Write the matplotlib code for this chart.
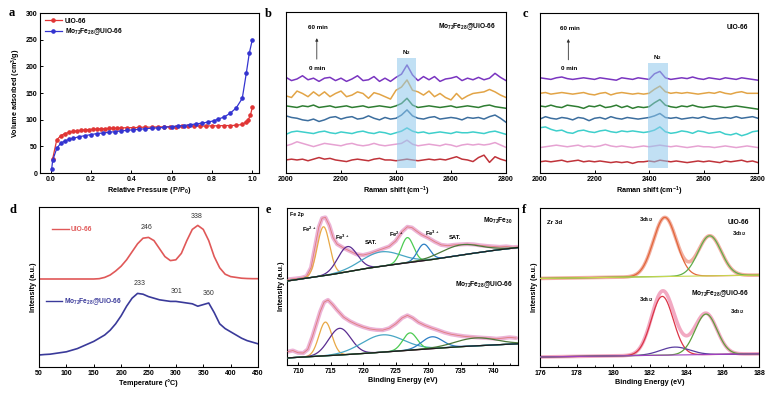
import numpy as np
import matplotlib
matplotlib.use('Agg')
import matplotlib.pyplot as plt
from matplotlib.patches import Rectangle
from matplotlib.ticker import MultipleLocator

plt.rcParams['font.family'] = ['Liberation Sans', 'DejaVu Sans']
plt.rcParams['font.weight'] = 'bold'
plt.rcParams['mathtext.default'] = 'regular'
plt.rcParams['axes.linewidth'] = 0.8
plt.rcParams['xtick.direction'] = 'in'
plt.rcParams['ytick.direction'] = 'in'
plt.rcParams['xtick.major.size'] = 2
plt.rcParams['ytick.major.size'] = 2
plt.rcParams['xtick.minor.size'] = 1.2
plt.rcParams['xtick.major.width'] = 0.7
plt.rcParams['ytick.major.width'] = 0.7
plt.rcParams['xtick.labelsize'] = 5
plt.rcParams['ytick.labelsize'] = 5
plt.rcParams['axes.labelsize'] = 5.2
plt.rcParams['axes.labelweight'] = 'bold'
plt.rcParams['xtick.major.pad'] = 2
plt.rcParams['ytick.major.pad'] = 2
plt.rcParams['axes.labelpad'] = 1.5

# ---------------------------------------------------------------------------
# Data
# ---------------------------------------------------------------------------
MOFE = 'Mo$_{72}$Fe$_{28}$@UiO-66'

# (a) N2 isotherms
p_uio = [0.01, 0.03, 0.05, 0.07, 0.09, 0.11, 0.13, 0.15, 0.17, 0.19, 0.21, 0.23,
         0.25, 0.27, 0.29, 0.31, 0.33, 0.35, 0.38, 0.41, 0.44, 0.47, 0.50, 0.53,
         0.56, 0.59, 0.62, 0.65, 0.68, 0.71, 0.74, 0.77, 0.80, 0.83, 0.86, 0.89,
         0.92, 0.95, 0.97, 0.98, 0.99, 1.0]
v_uio = [27, 62, 70, 74, 76, 78, 79, 80, 81, 81.5, 82, 82.5,
         83, 83, 83.5, 84, 84, 84.5, 85, 85, 85.5, 86, 86, 86.5,
         86.5, 87, 87, 87.5, 87.5, 88, 88, 88, 88.5, 88.5, 89, 89,
         89.5, 91, 96, 100, 108, 123]
p_mofe = [0.005, 0.01, 0.03, 0.05, 0.07, 0.09, 0.11, 0.14, 0.17, 0.20, 0.23, 0.26,
          0.29, 0.32, 0.35, 0.38, 0.41, 0.44, 0.47, 0.50, 0.53, 0.56, 0.60, 0.63,
          0.66, 0.69, 0.72, 0.75, 0.78, 0.81, 0.83, 0.86, 0.89, 0.92, 0.95, 0.97,
          0.985, 1.0]
v_mofe = [8, 24, 46, 56, 60, 63, 65, 68, 70, 72, 74, 75,
          76.5, 77.5, 79, 80, 81, 82, 83, 84, 84.5, 85.5, 87, 88,
          89, 90.5, 92, 93.5, 95.5, 98, 101, 105, 112, 122, 140, 187,
          225, 250]

# (b, c) in situ Raman: shift grid and deviations (x0.01 of panel height)
raman_shift = list(range(2000, 2801, 20))
trace_colors = ['#7A35C0', '#E2A446', '#2E7D32', '#3C6E9E', '#3ECFCB', '#E6A2D2', '#C0333A']
b_base = [0.584, 0.484, 0.412, 0.340, 0.250, 0.174, 0.081]
b_dev = [
    [1, -1, 0, 2, -0.5, 0.5, -1.5, 0.5, 1, -1, 0.5, -1.5, 0, 2, -1, -0.5, 1.5, -1.5, 0.5, -1.5,
     1, 3, 8.7, 2.5, -1, 1.5, -0.5, 1.5, -1.5, 0, 0.5, 1.5, -1, 0.5, -0.5, 1, -0.5, 0.5, 3.5, 1, -1],
    [-0.5, -1.5, 2.5, 1, -1, 2, -0.5, 2, -1, 1, 2.5, -1, 0, 2, 1, -2, 1.5, 0.5, -1, -2.5,
     3, 5, 9.4, 3, 2, 0, 2.5, -1, 1, -1.5, -3, 1, -2.5, -0.5, 1, 1.5, 2, 3.5, 2, 0, -1.5],
    [0.5, 0, -0.5, 0.5, 0, 1, -0.5, 0, 0.5, -0.5, 0, 0.5, -0.5, 0, 0.5, -0.5, 0, 0.5, 0, -0.5,
     0.5, 2, 5.2, 1, -0.5, 0, 0.5, 0, -0.5, 0, 0.5, -0.5, 0, 0.5, 0, -0.5, 0.5, 1, 0, -0.5, -1],
    [1.5, 0.5, 0, -1, -1.5, -0.5, -2, -1, 0.5, 1, -0.5, 0.5, 1, -0.5, 0, 1.5, 0, -1, 0.5, -0.5,
     0, 2, 5.2, 1.5, 0, -0.5, 0.5, 1, -0.5, 0, 0.5, 0, -1, 0.5, 0, 0.5, -0.5, 1, 2, 0, -2.5],
    [-1, 0.5, 1, 0.5, 0, -0.5, 0.5, 1, 0, -0.5, 0.5, 0, -0.5, 0.5, 1, 0, -0.5, 0.5, 0, -1,
     0, 1, 3, 1, 0, 0.5, -0.5, 0, 0.5, 0, -0.5, 0.5, 0, 0, 0.5, 0, -0.5, 0.5, 1, 0, -1],
    [-0.5, 0.5, 2, 1, 0, -1, 0, 1, 0.5, 0, -0.5, 0.5, 1, 0, -0.5, 0, 1, 0, -0.5, 0,
     0.5, 1, 3, 0.5, -0.5, 0, 0.5, 0, -0.5, 0.5, 0, -1, 0, 0.5, 0, 0.5, 0, 0.5, 1.5, 0, -1.5],
    [0, 0.5, 0, 0.5, -0.5, 0.5, 1.5, 0.5, 1, 0, -0.5, -1, 0, 0.5, 0, -0.5, 0.5, 1, 0, 0,
     -0.5, 0, 0.5, 0, -0.5, 0, 0.5, 0, 0.5, 0, 1, 2, 0.5, 0, -1, 1.5, 3, -1.5, 2, 0.5, -0.5],
]
c_base = [0.590, 0.498, 0.414, 0.342, 0.258, 0.164, 0.070]
c_dev = [
    [0.5, 0, -0.5, 0.5, 1, 0, -0.5, 0, 0.5, 0, -0.5, 0.5, 0, -0.5, -1, 0.5, 0, -0.5, 0.5, 0,
     -0.5, 3, 4.5, 0.5, -0.5, 0, 0.5, 0, 1, 0, -0.5, 0.5, 0, -0.5, 0.5, 0, -0.5, 0.5, 0, -0.5, -1],
    [0, 0.5, -0.5, 0, 0.5, 0, -0.5, 0, 0.5, -0.5, -1, 0, 0.5, -1, 0, 0.5, 0, -0.5, 0, -0.5,
     0, 2.5, 4.5, 1, 0, 0.5, 0, 0.5, 0, -0.5, 0, 0.5, 0, 1, 0, -0.5, 0.5, 1, 0, 0, 0],
    [0.5, 0, 1, 0, -0.5, 1, 0.5, 0, -1, 0.5, 0, 1, -0.5, 0, 1, -0.5, 0.5, -1, 0, -0.5,
     0, 2.5, 4.5, 1, 0, -0.5, 0.5, 0, 1, 0, -0.5, 0, 0.5, 0, -0.5, 0, 0.5, 0, -0.5, -1, -1.5],
    [-0.5, 1, 0, -0.5, 0.5, 0, -1, 0.5, 0, -1.5, 0, 0.5, -0.5, 1, 0, -0.5, 0.5, 0, -0.5, 0,
     0.5, 1.5, 3, 0.5, 0, 0.5, -0.5, 0, 0.5, 0, 1, 0, -0.5, 0, 0.5, 0, 1, 0, 0.5, 1, 0],
    [2.5, 3, 1.5, 0.5, 1, -0.5, -1, 0.5, 1, 0, -0.5, 0.5, 1, 0, -0.5, 0.5, 0, 0.5, 0, -0.5,
     0, 1, 3, 0, -1, -0.5, 0.5, 0, -1, 0.5, 0, -1, -0.5, 0, -1.5, -2, -1, -2.5, -1.5, 0, 0.5],
    [-0.5, 0, 0.5, 1, 0.5, 0, 0.5, 1, 0, 0.5, 0, 0.5, 1.5, 0.5, 0, 0.5, 0, -0.5, 0, 0.5,
     0, 0.5, 1, 0.5, 0, 0.5, 0, -0.5, 0, 0.5, 0, 0, -0.5, 0, 0.5, 0, -0.5, 0, 0.5, 0, -0.5],
    [0, 0.5, 0, 0.5, 1, 0, 0.5, 1, 0, 0.5, 0, 0.5, 0, -0.5, 0, -0.5, 0, -1, 0, 0,
     0.5, 0, 1, 0.5, 0, 0.5, 0, -0.5, 0, 0.5, 0, 0.5, 0, -0.5, 0.5, 0, 0.5, 1, 0, 0.5, -0.5],
]

# (d) TPD profiles (normalised to panel height)
tpd_temp = list(range(50, 451, 10))
tpd_uio = [0.55, 0.55, 0.55, 0.55, 0.55, 0.55, 0.55, 0.55, 0.55, 0.55, 0.55, 0.552,
           0.56, 0.575, 0.60, 0.63, 0.67, 0.72, 0.77, 0.805, 0.81, 0.79, 0.74, 0.69,
           0.665, 0.67, 0.71, 0.79, 0.86, 0.885, 0.86, 0.79, 0.69, 0.62, 0.58, 0.565,
           0.56, 0.555, 0.553, 0.552, 0.552]
tpd_mofe = [0.075, 0.078, 0.08, 0.085, 0.09, 0.095, 0.105, 0.115, 0.13, 0.145, 0.16, 0.18,
            0.20, 0.23, 0.27, 0.32, 0.38, 0.43, 0.46, 0.455, 0.44, 0.43, 0.42, 0.415,
            0.41, 0.41, 0.405, 0.40, 0.395, 0.38, 0.39, 0.40, 0.34, 0.27, 0.24, 0.22,
            0.20, 0.18, 0.165, 0.155, 0.145]
tpd_peaks_uio = [246, 338]
tpd_peaks_mofe = [233, 301, 360]

# (e) Fe 2p XPS: raw spectra, backgrounds and fitted components
fe_raw_top_x = [708.4, 709.5, 710.5, 711.3, 712.0, 712.6, 713.2, 713.7, 714.2, 714.8, 715.4,
                716.0, 717.0, 718.0, 719.0, 720.0, 721.0, 722.0, 723.0, 724.0, 725.0,
                726.0, 726.8, 727.5, 728.3, 729.0, 730.0, 731.0, 732.0, 733.0, 734.0,
                735.0, 736.0, 737.0, 738.0, 739.0, 740.0, 741.0, 742.0, 743.0, 743.7]
fe_raw_top_y = [0.545, 0.55, 0.555, 0.565, 0.62, 0.75, 0.88, 0.935, 0.94, 0.89, 0.81,
                0.77, 0.745, 0.725, 0.705, 0.70, 0.71, 0.725, 0.74, 0.755, 0.79,
                0.85, 0.88, 0.875, 0.85, 0.83, 0.81, 0.785, 0.765, 0.76, 0.765,
                0.768, 0.77, 0.768, 0.762, 0.758, 0.755, 0.752, 0.755, 0.75, 0.752]
fe_raw_bot_x = [708.4, 709.2, 710.0, 710.8, 711.5, 712.2, 712.8, 713.4, 714.0, 714.6, 715.3,
                716.0, 717.0, 718.0, 719.0, 720.0, 721.0, 722.0, 723.0, 724.0, 725.0,
                726.0, 726.8, 727.6, 728.5, 729.5, 730.5, 731.5, 732.5, 733.5, 734.5,
                735.5, 736.5, 737.5, 738.5, 739.5, 740.5, 741.5, 742.5, 743.5]
fe_raw_bot_y = [0.085, 0.092, 0.078, 0.076, 0.10, 0.18, 0.26, 0.34, 0.40, 0.414, 0.385,
                0.35, 0.305, 0.278, 0.258, 0.242, 0.23, 0.224, 0.222, 0.234, 0.262,
                0.30, 0.316, 0.30, 0.272, 0.252, 0.236, 0.222, 0.207, 0.196, 0.189,
                0.183, 0.179, 0.176, 0.173, 0.171, 0.167, 0.171, 0.176, 0.172]
fe_bg_x = [708.3, 715, 720, 725, 730, 735, 740, 743.8]
fe_bg_top = [0.535, 0.575, 0.612, 0.642, 0.668, 0.70, 0.73, 0.748]
fe_bg_bot = [0.045, 0.06, 0.073, 0.088, 0.103, 0.117, 0.128, 0.135]
fe_comp_colors = ['#E8A845', '#5A2D91', '#47A6C4', '#4CCB52', '#2C7EC4', '#4C7A3A']
fe_top_center = [713.9, 717.6, 722.7, 726.8, 729.3, 735.0]
fe_top_amp = [0.312, 0.16, 0.092, 0.16, 0.105, 0.065]
fe_top_sigma = [0.95, 1.5, 3.0, 0.95, 0.95, 3.0]
fe_bot_center = [714.2, 716.4, 723.0, 727.2, 730.6, 737.3]
fe_bot_amp = [0.215, 0.17, 0.11, 0.11, 0.075, 0.05]
fe_bot_sigma = [1.0, 1.7, 3.2, 1.1, 1.6, 3.2]

# (f) Zr 3d XPS fits
zr_bg_x = [176, 188]
zr_bg_top = [0.557, 0.578]
zr_bg_bot = [0.063, 0.083]
zr_top_center = [182.84, 185.3]
zr_top_amp = [0.372, 0.252]
zr_top_sigma = [0.63, 0.63]
zr_top_colors = ['#E2673A', '#5DAE4A']
zr_bot_center = [182.7, 183.4, 185.1]
zr_bot_amp = [0.37, 0.05, 0.255]
zr_bot_sigma = [0.6, 0.8, 0.6]
zr_bot_colors = ['#DC3446', '#5A3CA0', '#5E9E3C']

# ---------------------------------------------------------------------------
# Helpers
# ---------------------------------------------------------------------------
W, H = 779, 396


def px_axes(fig, left, right, top, bottom):
    return fig.add_axes([left / W, 1 - bottom / H, (right - left) / W, (bottom - top) / H])


def panel_letter(fig, x, y, s):
    fig.text(x / W, 1 - y / H, s, family=['Liberation Serif', 'DejaVu Serif'],
             fontsize=9, fontweight='bold', ha='left', va='center')


def gauss(x, c, a, s):
    return a * np.exp(-(x - c) ** 2 / (2 * s ** 2))


def raman_panel(ax, base, dev, box, label, peak_x):
    for col, b0, d in zip(trace_colors, base, dev):
        ax.plot(raman_shift, [b0 + v / 100 for v in d], color=col, lw=1.1, zorder=2)
    ax.add_patch(Rectangle((box[0], 0.03), box[1] - box[0], box[2] - 0.03,
                           facecolor='#8EC8EC', edgecolor='none', alpha=0.55, zorder=3))
    ax.text(peak_x, box[2] + 0.035, 'N$_2$', ha='center', va='center', fontsize=4.5)
    ax.set_xlim(2000, 2800)
    ax.set_ylim(0, 1)
    ax.set_yticks([])
    ax.xaxis.set_major_locator(MultipleLocator(200))
    ax.set_xlabel('Raman shift (cm$^{-1}$)')
    ax.text(0.955, 0.91, label, transform=ax.transAxes, ha='right', va='center', fontsize=4.8)


def arrow_label(ax, x):
    ax.annotate('', xy=(x, 0.855), xytext=(x, 0.69),
                arrowprops=dict(arrowstyle='-|>', color='#333333', lw=0.6, mutation_scale=4))
    ax.text(x + 5, 0.905, '60 min', ha='center', va='center', fontsize=4.5)
    ax.text(x + 2, 0.65, '0 min', ha='center', va='center', fontsize=4.5)


# ---------------------------------------------------------------------------
# Figure
# ---------------------------------------------------------------------------
fig = plt.figure(figsize=(W / 100, H / 100), dpi=100)

# (a) -----------------------------------------------------------------------
ax = px_axes(fig, 40, 259, 13, 173)
ax.plot(p_uio, v_uio, '-o', color='#E03535', ms=2.3, lw=0.9, label='UiO-66')
ax.plot(p_mofe, v_mofe, '-o', color='#3434D0', ms=2.3, lw=0.9, label=MOFE)
ax.set_xlim(-0.053, 1.033)
ax.set_ylim(0, 300)
ax.xaxis.set_major_locator(MultipleLocator(0.2))
ax.yaxis.set_major_locator(MultipleLocator(50))
ax.set_xlabel('Relative Pressure (P/P$_0$)')
ax.set_ylabel('Volume adsorbed (cm$^3$/g)')
ax.legend(loc='upper left', frameon=False, fontsize=4.8, handlelength=2.6,
          borderaxespad=0.3, labelspacing=0.25, handletextpad=0.4)

# (b) -----------------------------------------------------------------------
ax = px_axes(fig, 286, 506, 12, 173)
raman_panel(ax, b_base, b_dev, (2405, 2473, 0.712), MOFE, 2439)
arrow_label(ax, 2112)

# (c) -----------------------------------------------------------------------
ax = px_axes(fig, 540, 758, 13, 173)
raman_panel(ax, c_base, c_dev, (2397, 2471, 0.686), 'UiO-66', 2430)
arrow_label(ax, 2104)

# (d) -----------------------------------------------------------------------
ax = px_axes(fig, 39, 258, 207, 367)
ax.plot(tpd_temp, tpd_uio, color='#E05858', lw=1.2)
ax.plot(tpd_temp, tpd_mofe, color='#3A3A9A', lw=1.2)
for t in tpd_peaks_uio:
    ax.text(t, np.interp(t, tpd_temp, tpd_uio) + 0.04, str(t), ha='center',
            va='bottom', fontsize=5, fontweight='normal', color='#333333')
for t in tpd_peaks_mofe:
    ax.text(t, np.interp(t, tpd_temp, tpd_mofe) + 0.04, str(t), ha='center',
            va='bottom', fontsize=5, fontweight='normal', color='#333333')
ax.plot([0.06, 0.135], [0.86, 0.86], transform=ax.transAxes, color='#E05858', lw=1)
ax.text(0.145, 0.86, 'UiO-66', transform=ax.transAxes, color='#E05858',
        fontsize=4.8, va='center')
ax.plot([0.03, 0.105], [0.41, 0.41], transform=ax.transAxes, color='#3A3A9A', lw=1)
ax.text(0.115, 0.41, MOFE, transform=ax.transAxes, color='#3A3A9A',
        fontsize=4.8, va='center')
ax.set_xlim(50, 450)
ax.set_ylim(0, 1)
ax.set_yticks([])
ax.xaxis.set_major_locator(MultipleLocator(50))
ax.set_xlabel('Temperature (°C)')
ax.set_ylabel('Intensity (a.u.)')

# (e) -----------------------------------------------------------------------
ax = px_axes(fig, 287, 518, 208, 365)
xe = np.linspace(708.3, 743.8, 500)
for rx, ry, bg, cen, amp, sig in [
        (fe_raw_top_x, fe_raw_top_y, fe_bg_top, fe_top_center, fe_top_amp, fe_top_sigma),
        (fe_raw_bot_x, fe_raw_bot_y, fe_bg_bot, fe_bot_center, fe_bot_amp, fe_bot_sigma)]:
    ax.plot(rx, ry, color='#E8A0CC', lw=3.0, alpha=0.8, solid_capstyle='round', zorder=2)
    ax.plot(rx, ry, color='#E07C7C', lw=0.6, zorder=3)
    base = np.interp(xe, fe_bg_x, bg)
    for c, a, s, col in zip(cen, amp, sig, fe_comp_colors):
        ax.plot(xe, base + gauss(xe, c, a, s), color=col, lw=0.9, zorder=4)
    ax.plot(xe, base, color='#1E1E1E', lw=0.9, zorder=5)
ax.text(0.012, 0.96, 'Fe 2p', transform=ax.transAxes, fontsize=3.8, va='center')
for x, y, s in [(711.7, 0.865, 'Fe$^{2+}$'), (716.8, 0.81, 'Fe$^{3+}$'), (721.2, 0.78, 'SAT.'),
                (725.0, 0.835, 'Fe$^{2+}$'), (730.6, 0.84, 'Fe$^{3+}$'), (734.1, 0.81, 'SAT.')]:
    ax.text(x, y, s, ha='center', va='center', fontsize=4.2)
ax.text(0.975, 0.915, 'Mo$_{72}$Fe$_{30}$', transform=ax.transAxes, ha='right',
        va='center', fontsize=4.8)
ax.text(0.975, 0.515, MOFE, transform=ax.transAxes, ha='right', va='center', fontsize=4.8)
ax.set_xlim(708.3, 743.8)
ax.set_ylim(0, 1)
ax.set_yticks([])
ax.xaxis.set_major_locator(MultipleLocator(5))
ax.xaxis.set_minor_locator(MultipleLocator(2.5))
ax.set_xlabel('Binding Energy (eV)')
ax.set_ylabel('Intensity (a.u.)')

# (f) -----------------------------------------------------------------------
ax = px_axes(fig, 540, 759, 208, 367)
xf = np.linspace(176, 188, 500)
for bg, cen, amp, sig, cols, raw_c, base_c in [
        (zr_bg_top, zr_top_center, zr_top_amp, zr_top_sigma, zr_top_colors, '#F0A090', '#C8D850'),
        (zr_bg_bot, zr_bot_center, zr_bot_amp, zr_bot_sigma, zr_bot_colors, '#F09AB8', '#A040C0')]:
    base = np.interp(xf, zr_bg_x, bg)
    comps = [gauss(xf, c, a, s) for c, a, s in zip(cen, amp, sig)]
    env = base + np.sum(comps, axis=0)
    ax.plot(xf, env, color=raw_c, lw=2.6, alpha=0.85, zorder=2)
    for comp, col in zip(comps, cols):
        ax.plot(xf, base + comp, color=col, lw=0.9, zorder=3)
    ax.plot(xf, base, color=base_c, lw=0.8, zorder=4)
ax.text(0.03, 0.91, 'Zr 3d', transform=ax.transAxes, fontsize=4.5, va='center')
ax.text(0.955, 0.91, 'UiO-66', transform=ax.transAxes, ha='right', va='center', fontsize=4.8)
ax.text(0.955, 0.463, MOFE, transform=ax.transAxes, ha='right', va='center', fontsize=4.8)
for x, y in [(181.8, 0.925), (181.8, 0.427)]:
    ax.text(x, y, '3d$_{5/2}$', ha='center', va='center', fontsize=4.2)
for x, y in [(186.9, 0.84), (186.8, 0.347)]:
    ax.text(x, y, '3d$_{3/2}$', ha='center', va='center', fontsize=4.2)
ax.set_xlim(176, 188)
ax.set_ylim(0, 1)
ax.set_yticks([])
ax.xaxis.set_major_locator(MultipleLocator(2))
ax.xaxis.set_minor_locator(MultipleLocator(1))
ax.set_xlabel('Binding Energy (eV)')
ax.set_ylabel('Intensity (a.u.)')

# panel letters
for x, y, s in [(9, 13, 'a'), (265, 14, 'b'), (523, 14, 'c'),
                (9, 210, 'd'), (266, 210, 'e'), (522, 210, 'f')]:
    panel_letter(fig, x, y, s)

fig.savefig('out.png', dpi=100)
